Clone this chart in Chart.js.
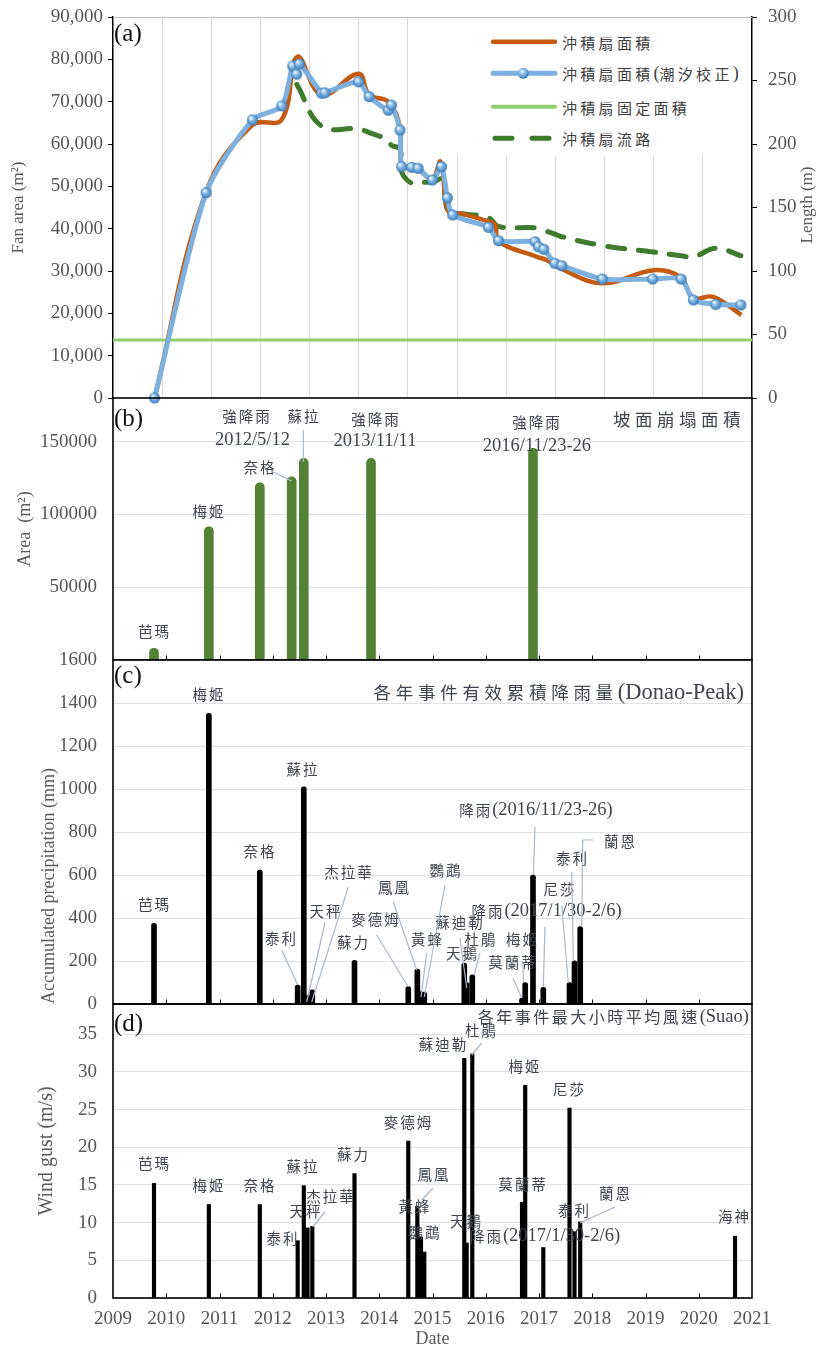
<!DOCTYPE html>
<html><head><meta charset="utf-8">
<script src="https://cdn.jsdelivr.net/npm/chart.js@4/dist/chart.umd.min.js"></script>
<style>
html,body{margin:0;padding:0;background:#fff;overflow:hidden;width:821px;height:1346px}
#wrap{position:relative;width:821px;height:1346px;overflow:hidden}
canvas{position:absolute;left:0}
svg{position:absolute;left:0;top:0}
</style></head><body>
<div id="wrap">
<canvas id="ca" width="821" height="441" style="top:-13px"></canvas>
<canvas id="cb" width="821" height="322" style="top:368px"></canvas>
<canvas id="cc" width="821" height="404" style="top:630px"></canvas>
<canvas id="cd" width="821" height="382" style="top:974px"></canvas>
<svg id="ov" width="821" height="1346"></svg>
</div>
<script>
// ===================== DATA =====================
// (a) alluvial fan area (tide corrected, blue markers)
const fanDates = [2009.78,2010.75,2011.62,2012.17,2012.375,2012.45,2012.50,2012.92,2012.98,2013.61,2013.81,2014.17,2014.23,2014.39,2014.42,2014.61,2014.73,2015.00,2015.17,2015.28,2015.38,2016.05,2016.24,2016.925,2016.99,2017.09,2017.30,2017.43,2018.19,2019.135,2019.67,2019.90,2020.32,2020.79];
const fanAreaTide = [0,48500,65700,69000,78400,76500,78900,72000,72100,74700,71200,68000,69200,63300,54650,54500,54260,51500,54650,47300,43230,40320,37160,36930,35740,35130,31820,31250,28110,28110,28110,23150,22130,21970];
// (a) alluvial fan area (raw, orange)
const rawDates = [2009.78,2010.75,2011.62,2012.17,2012.46,2012.92,2013.61,2013.81,2014.17,2014.39,2014.42,2014.61,2014.73,2015.00,2015.15,2015.30,2015.52,2016.05,2016.18,2016.24,2016.95,2017.14,2017.40,2018.20,2019.15,2019.65,2019.90,2020.27,2020.80];
const fanAreaRaw = [0,48800,64500,65800,80600,71600,76600,71600,70000,63800,55000,54500,54000,51800,55800,44000,43600,41700,40800,37000,33400,32600,30600,27100,30200,28600,23600,23900,19600];
// (a) fixed fan area
const fixedDates = [2009,2021];
const fixedArea = [13700,13700];
// (a) fan channel length (m, right axis)
const lenDates = [2012.45,2012.92,2013.61,2013.81,2014.17,2014.23,2014.39,2014.42,2014.61,2014.73,2015.00,2015.17,2015.28,2015.38,2016.05,2016.24,2016.925,2017.09,2017.30,2017.43,2018.19,2019.135,2019.67,2019.90,2020.32,2020.79];
const fanLength = [247,214,212,209,203,199,196,178,169,170,170,172,148,146,142,135,134,132,129,127,120,115,112,111,118,112];
// (b) landslide area
const slideDates = [2009.77,2010.80,2011.757,2012.356,2012.583,2013.845,2016.887];
const slideArea = [8000,91500,121700,125800,138500,138500,145400];
// (c) effective accumulated rainfall
const rainDates = [2009.77,2010.80,2011.757,2012.468,2012.583,2012.653,2012.743,2013.535,2014.545,2014.715,2014.784,2014.846,2015.597,2015.642,2015.747,2016.681,2016.741,2016.887,2017.081,2017.573,2017.667,2017.774];
const rainValues = [375,1352,623,88,1010,40,66,203,81,163,58,55,190,100,136,27,100,600,77,100,201,360];
// (d) max hourly mean wind speed
const gustDates = [2009.77,2010.80,2011.757,2012.468,2012.583,2012.653,2012.743,2013.535,2014.545,2014.715,2014.784,2014.846,2015.597,2015.642,2015.747,2016.681,2016.741,2017.081,2017.573,2017.667,2017.774,2020.681];
const gustValues = [15.2,12.4,12.4,7.6,14.9,9.3,9.5,16.5,20.8,12.2,8.1,6.1,31.8,7.3,32.4,12.7,28.2,6.7,25.2,8.8,10.1,8.2];
// ticks
const yearTicks = [2009,2010,2011,2012,2013,2014,2015,2016,2017,2018,2019,2020,2021];
const yearLabels = ['2009','2010','2011','2012','2013','2014','2015','2016','2017','2018','2019','2020','2021'];
const areaTicks = [50000,100000,150000];
const gustTicks = [0,5,10,15,20,25,30,35];

// ===================== HELPERS =====================
Chart.defaults.font.family = "'Liberation Serif','Noto Sans CJK TC',serif";
Chart.defaults.color = '#555';
const TF = 19; // tick font size
const pts = (xs, ys) => xs.map((x, i) => ({x, y: ys[i]}));
const fixW = w => s => { s.width = w; };
const fixH = h => s => { s.height = h; };
const plain = v => String(v);
const gridA = []; for (let k = 1; k <= 12; k++) gridA.push(2009 + k * 12 / 13);

function sphere(r){
  const c=document.createElement('canvas'); c.width=c.height=Math.ceil(2*r+2);
  const g=c.getContext('2d'); const m=c.width/2;
  const gr=g.createRadialGradient(m-r*0.35,m-r*0.4,r*0.1,m,m,r);
  gr.addColorStop(0,'#eef6fd'); gr.addColorStop(0.45,'#80b7e4'); gr.addColorStop(1,'#3b78b5');
  g.fillStyle=gr; g.beginPath(); g.arc(m,m,r,0,Math.PI*2); g.fill(); return c;
}
const sphereImg = sphere(5.5);

const frame = {
  id:'frame',
  afterDraw(chart, args, o){
    const {ctx, chartArea:a} = chart;
    ctx.save();
    if (o.years){
      ctx.strokeStyle='#000'; ctx.lineWidth=1;
      const xs = chart.scales.x;
      o.years.forEach(y=>{ const px=Math.round(xs.getPixelForValue(y))+0.5;
        ctx.beginPath(); ctx.moveTo(px,a.bottom); ctx.lineTo(px,a.bottom-4.5); ctx.stroke(); });
    }
    if (o.box){ ctx.strokeStyle='#000'; ctx.lineWidth=1.6; ctx.strokeRect(a.left,a.top,a.right-a.left,a.bottom-a.top); }
    if (o.topLine){ ctx.strokeStyle='#bfbfbf'; ctx.lineWidth=1; ctx.beginPath(); ctx.moveTo(a.left,a.top+0.5); ctx.lineTo(a.right,a.top+0.5); ctx.stroke(); }
    ctx.restore();
  }
};
const noLegend = {legend:{display:false}, tooltip:{enabled:false}};
const xBase = (h) => ({type:'linear', min:2009, max:2021, offset:false, grid:{display:false, offset:false}, ticks:{display:false}, border:{display:false}, afterFit: fixH(h)});
const innerYears = yearTicks.slice(1, -1);
const PAD = {top:30,right:69,left:0,bottom:0};

// ===================== (a) =====================
new Chart(document.getElementById('ca'), {
  type:'line',
  data:{datasets:[
    {label:'沖積扇面積(潮汐校正)', data:pts(fanDates,fanAreaTide), borderColor:'#7cb0df', borderWidth:5, tension:0.25, pointStyle:sphereImg, pointRadius:6, clip:false, yAxisID:'y'},
    {label:'沖積扇面積', data:pts(rawDates,fanAreaRaw), borderColor:'#c55a11', borderWidth:4.5, tension:0.4, pointRadius:0, yAxisID:'y'},
    {label:'沖積扇流路', data:pts(lenDates,fanLength), borderColor:'#3e7b2c', borderWidth:5, borderDash:[17,14], borderCapStyle:'round', tension:0.4, pointRadius:0, yAxisID:'y2'},
    {label:'沖積扇固定面積', data:pts(fixedDates,fixedArea), borderColor:'#8fcf6b', borderWidth:3, tension:0, pointRadius:0, yAxisID:'y'}
  ]},
  options:{responsive:false, animation:false, layout:{padding:{top:30,bottom:0,left:0,right:0}},
    plugins:Object.assign({frame:{topLine:true}}, noLegend),
    scales:{
      x:{type:'linear', min:2009, max:2021, offset:false,
         afterBuildTicks:s=>{ s.ticks = gridA.map(v=>({value:v})); },
         ticks:{display:false}, grid:{color:'#d9d9d9', lineWidth:1, drawTicks:false}, border:{display:false}, afterFit:fixH(30)},
      y:{position:'left', min:0, max:90000,
         ticks:{stepSize:10000, callback:v=>v.toLocaleString('en-US'), font:{size:TF}, padding:5},
         grid:{drawOnChartArea:false, drawTicks:true, tickLength:5, color:'#000'},
         border:{display:true, color:'#000', width:1.5},
         title:{display:true, text:'Fan area (m²)', font:{size:17}, color:'#595959', padding:{top:8,bottom:0}},
         afterFit:fixW(113)},
      y2:{position:'right', min:0, max:300,
         ticks:{stepSize:50, font:{size:TF}, padding:11},
         grid:{drawOnChartArea:false, drawTicks:true, tickLength:5, color:'#000'},
         border:{display:true, color:'#000', width:1.5},
         afterFit:fixW(69)}
    }},
  plugins:[frame]
});

// ===================== (b) =====================
new Chart(document.getElementById('cb'), {
  type:'bar',
  data:{datasets:[{label:'坡面崩塌面積', data:pts(slideDates,slideArea), backgroundColor:'#548235', barThickness:9, borderRadius:4.5, borderSkipped:'start'}]},
  options:{responsive:false, animation:false, layout:{padding:PAD},
    plugins:Object.assign({frame:{box:true, years:innerYears}}, noLegend),
    scales:{
      x:xBase(30),
      y:{min:0, max:180000, afterBuildTicks:s=>{ s.ticks = areaTicks.map(v=>({value:v})); },
         ticks:{font:{size:TF}, padding:16, callback:plain}, grid:{color:'#dde1e8', drawTicks:false}, border:{display:false},
         title:{display:true, text:'Area  (m²)', font:{size:18}, color:'#595959', padding:{top:14,bottom:0}},
         afterFit:fixW(113)}
    }},
  plugins:[frame]
});

// ===================== (c) =====================
new Chart(document.getElementById('cc'), {
  type:'bar',
  data:{datasets:[{label:'各年事件有效累積降雨量', data:pts(rainDates,rainValues), backgroundColor:'#000', barThickness:5, borderRadius:2.5, borderSkipped:'start'}]},
  options:{responsive:false, animation:false, layout:{padding:PAD},
    plugins:Object.assign({frame:{box:true, years:innerYears}}, noLegend),
    scales:{
      x:xBase(30),
      y:{min:0, max:1600, ticks:{stepSize:200, font:{size:TF}, padding:16, callback:plain}, grid:{color:'#dde1e8', drawTicks:false}, border:{display:false},
         title:{display:true, text:'Accumulated precipitation (mm)', align:'start', font:{size:18}, color:'#595959', padding:{top:38,bottom:0}},
         afterFit:fixW(113)}
    }},
  plugins:[frame]
});

// ===================== (d) =====================
new Chart(document.getElementById('cd'), {
  type:'bar',
  data:{datasets:[{label:'各年事件最大小時平均風速', data:pts(gustDates,gustValues), backgroundColor:'#000', barThickness:3.5, borderSkipped:'start'}]},
  options:{responsive:false, animation:false, layout:{padding:PAD},
    plugins:Object.assign({frame:{box:true, years:innerYears}}, noLegend),
    scales:{
      x:{type:'linear', min:2009, max:2021, offset:false,
         afterBuildTicks:s=>{ s.ticks = yearTicks.map(v=>({value:v})); },
         ticks:{font:{size:TF}, padding:10, maxRotation:0, autoSkip:false, callback:(v,i)=>yearLabels[i]},
         grid:{display:false, offset:false, drawTicks:false}, border:{display:false},
         title:{display:true, text:'Date', font:{size:18}, color:'#595959', padding:{top:0,bottom:6}},
         afterFit:fixH(58)},
      y:{min:0, max:39, afterBuildTicks:s=>{ s.ticks = gustTicks.map(v=>({value:v})); },
         ticks:{font:{size:TF}, padding:16, callback:plain}, grid:{color:'#dde1e8', drawTicks:false}, border:{display:false},
         title:{display:true, text:'Wind gust (m/s)', font:{size:20}, color:'#595959', padding:{top:35,bottom:0}},
         afterFit:fixW(113)}
    }},
  plugins:[frame]
});

// ===================== OVERLAY TEXT =====================
const NS='http://www.w3.org/2000/svg';
const svg=document.getElementById('ov');
const isCJK = ch => /[\u2E80-\u9FFF\uF900-\uFAFF\uFF00-\uFFEF]/.test(ch);
function el(name, attrs){ const e=document.createElementNS(NS,name); for(const k in attrs) e.setAttribute(k,attrs[k]); svg.appendChild(e); return e; }
function addText(x,y,str,o={}){
  const t=el('text',{x:x,y:y,'text-anchor':o.anchor||'middle','dominant-baseline':'central',fill:o.color||'#3f4650'});
  if(o.rotate) t.setAttribute('transform',`rotate(${o.rotate} ${x} ${y})`);
  const runs=[];
  for(const ch of str){ const c=isCJK(ch); if(runs.length && runs[runs.length-1].c===c) runs[runs.length-1].s+=ch; else runs.push({c:c,s:ch}); }
  runs.forEach(r=>{
    const ts=document.createElementNS(NS,'tspan'); ts.textContent=r.s;
    if(r.c){ ts.setAttribute('font-family',"'Noto Sans CJK TC','Noto Sans CJK SC',sans-serif"); ts.setAttribute('font-size',o.cs||14.5); ts.setAttribute('letter-spacing',o.ls!==undefined?o.ls:2); }
    else { ts.setAttribute('font-family',"'Liberation Serif','Times New Roman',serif"); ts.setAttribute('font-size',o.lsz||18.5); }
    t.appendChild(ts);
  });
  return t;
}
function addLine(p){ el('polyline',{points:p.map(q=>q.join(',')).join(' '),fill:'none',stroke:'#aab8ca','stroke-width':1.2}); }

// defs
const defs=el('defs',{});
const rg=document.createElementNS(NS,'radialGradient'); rg.setAttribute('id','sph'); rg.setAttribute('cx','0.4'); rg.setAttribute('cy','0.35'); rg.setAttribute('r','0.65');
[['0','#eef6fd'],['0.45','#80b7e4'],['1','#3b78b5']].forEach(s=>{const st=document.createElementNS(NS,'stop'); st.setAttribute('offset',s[0]); st.setAttribute('stop-color',s[1]); rg.appendChild(st);});
defs.appendChild(rg);

// legend (a)
el('rect',{x:456,y:18,width:295,height:138,fill:'#fff'});
el('line',{x1:493,y1:41.7,x2:555,y2:41.7,stroke:'#c55a11','stroke-width':4.5,'stroke-linecap':'round'});
el('line',{x1:493,y1:73.3,x2:555,y2:73.3,stroke:'#7cb0df','stroke-width':5,'stroke-linecap':'round'});
el('circle',{cx:523.3,cy:73.3,r:5.5,fill:'url(#sph)'});
el('line',{x1:493,y1:106.7,x2:555,y2:106.7,stroke:'#8fcf6b','stroke-width':4,'stroke-linecap':'round'});
el('line',{x1:495,y1:138.3,x2:512,y2:138.3,stroke:'#3e7b2c','stroke-width':5,'stroke-linecap':'round'});
el('line',{x1:532,y1:138.3,x2:549,y2:138.3,stroke:'#3e7b2c','stroke-width':5,'stroke-linecap':'round'});
const legOpt={anchor:'start',cs:15,ls:3.3,lsz:18,color:'#404040'};
addText(562,41.7,'沖積扇面積',legOpt);
addText(562,73.3,'沖積扇面積(潮汐校正)',legOpt);
addText(562,106.7,'沖積扇固定面積',legOpt);
addText(562,138.3,'沖積扇流路',legOpt);

// right axis title
addText(806,205,'Length (m)',{rotate:-90,lsz:17,color:'#595959'});

// panel letters
[['(a)',32],['(b)',417],['(c)',674],['(d)',1022]].forEach(p=>addText(114,p[1],p[0],{anchor:'start',lsz:25,color:'#111'}));

// panel titles
addText(745,418,'坡面崩塌面積',{anchor:'end',cs:17.5,ls:4.5});
addText(744,691,'各年事件有效累積降雨量(Donao-Peak)',{anchor:'end',cs:17.5,ls:4.7,lsz:22.5});
addText(749,1016,'各年事件最大小時平均風速(Suao)',{anchor:'end',cs:16,ls:2.5,lsz:18.5});

// (b) annotations
[['芭瑪',154.5,630],['梅姬',209,509.5],['奈格',260,466],['強降雨',247,415],['蘇拉',304,415],['2012/5/12',252.5,438.5],
 ['強降雨',376,418],['2013/11/11',375,440],['強降雨',537,421],['2016/11/23-26',537,445]].forEach(a=>addText(a[1],a[2],a[0]));
addLine([[271,471],[291.7,481]]);
addLine([[303.3,430],[303.3,462]]);

// (c) annotations
[['梅姬',209,693],['蘇拉',303,768],['奈格',260,850],['芭瑪',154.5,903],['杰拉華',349,871],['鳳凰',394.5,886],['天秤',326,910],
 ['麥德姆',376,918],['泰利',281.5,937],['蘇力',353.5,941],['黃蜂',427.5,938],['鸚鵡',446,869],['蘇迪勒',460,921],['杜鵑',481,938],
 ['天鵝',462.5,952],['梅姬',522.5,938],['莫蘭蒂',513,961],['降雨(2017/1/30-2/6)',546.5,910],['降雨(2016/11/23-26)',536,809],
 ['尼莎',560,888],['泰利',572.5,857],['蘭恩',620.5,840]].forEach(a=>addText(a[1],a[2],a[0]));
[[[281.7,950],[297.7,985]],[[325,923],[306.7,1002]],[[348.3,887],[311.7,1002]],[[376.7,935],[408.3,987]],[[393.3,902],[416.7,970]],
 [[426.7,953],[421,997]],[[445,885],[424.3,997]],[[460,938],[466.7,988]],[[480,953],[474,975]],[[513,978],[521.7,998]],
 [[523,962],[523.5,983]],[[535,827],[533.3,875]],[[545,927],[543.3,987]],[[561.7,905],[568.3,983]],[[571.7,872],[573.3,960]],
 [[593.3,840],[582.7,840],[581.7,927]]].forEach(addLine);

// (d) annotations
[['芭瑪',154.5,1162],['梅姬',209,1184],['奈格',260,1184],['蘇拉',303,1165],['蘇力',353.5,1153],['杰拉華',331,1195],['天秤',306,1210],
 ['泰利',283,1237],['麥德姆',408.5,1121],['鳳凰',434,1173],['黃蜂',415,1205],['鸚鵡',425,1231],['蘇迪勒',443.5,1043],['杜鵑',481.5,1029],
 ['天鵝',466.5,1220],['降雨(2017/1/30-2/6)',545,1235],['梅姬',525,1065],['尼莎',569.5,1088],['莫蘭蒂',523,1183],['泰利',574.5,1209],
 ['蘭恩',615.5,1192],['海神',734.5,1215]].forEach(a=>addText(a[1],a[2],a[0]));
[[[325,1212],[312.7,1227]],[[433,1188],[421.7,1200]],[[481.7,1043],[471.7,1055]],[[615,1207],[580,1223]]].forEach(addLine);
</script>
</body></html>
